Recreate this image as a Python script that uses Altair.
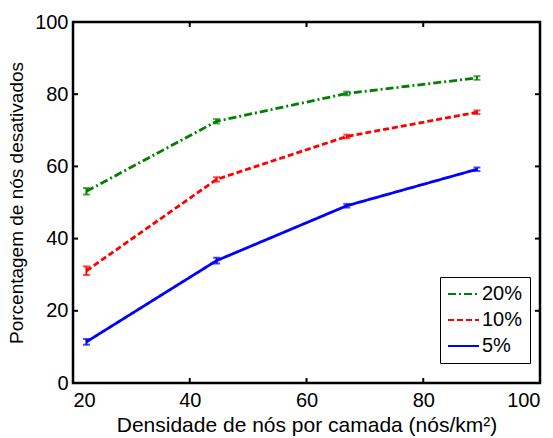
import altair as alt
import pandas as pd

density = [22.3, 44.6, 66.9, 89.2]
series = ["20%", "10%", "5%"]
vals_20 = [53.1, 72.5, 80.2, 84.5]
vals_10 = [31.1, 56.4, 68.3, 75.0]
vals_5 = [11.4, 33.9, 49.1, 59.2]
err_20 = [0.9, 0.6, 0.5, 0.5]
err_10 = [1.2, 0.6, 0.5, 0.5]
err_5 = [0.8, 0.8, 0.5, 0.5]
xticks = [20, 40, 60, 80, 100]
yticks = [0, 20, 40, 60, 80, 100]

rows = []
for s, vals, errs in [("20%", vals_20, err_20), ("10%", vals_10, err_10), ("5%", vals_5, err_5)]:
    for x, v, e in zip(density, vals, errs):
        rows.append({"x": x, "y": v, "lo": v - e, "hi": v + e, "s": s})
df = pd.DataFrame(rows)

W, H = 467, 361
FONT = "Liberation Sans"
colors = ["#008000", "#ff0000", "#0000ff"]
dashes = [[8, 3, 2, 3], [6, 3], [1, 0]]

xs = alt.Scale(domain=[20, 100], nice=False)
ys = alt.Scale(domain=[0, 100], nice=False)

base = alt.Chart(df)

lines = base.mark_line(strokeWidth=2.8).encode(
    x=alt.X("x:Q", scale=xs,
            axis=alt.Axis(values=xticks, title="Densidade de nós por camada (nós/km²)",
                          grid=False, ticks=False, domain=False, labelPadding=7,
                          labelFontSize=20, titleFontSize=21, titlePadding=4,
                          labelFont=FONT, titleFont=FONT, titleFontWeight="normal",
                          labelColor="black", titleColor="black")),
    y=alt.Y("y:Q", scale=ys,
            axis=alt.Axis(values=yticks, title="Porcentagem de nós desativados",
                          grid=False, ticks=False, domain=False, labelPadding=5,
                          labelFontSize=20, titleFontSize=19, titlePadding=8,
                          labelFont=FONT, titleFont=FONT, titleFontWeight="normal",
                          labelColor="black", titleColor="black")),
    color=alt.Color("s:N", scale=alt.Scale(domain=series, range=colors),
                    legend=alt.Legend(title=None, orient="none", legendX=367, legendY=255,
                                      strokeColor="black", fillColor="white", padding=7,
                                      symbolType="stroke", symbolSize=961, symbolStrokeWidth=2,
                                      labelFontSize=20, labelFont=FONT, labelColor="black",
                                      clipHeight=20, rowPadding=6, labelOffset=2)),
    strokeDash=alt.StrokeDash("s:N", scale=alt.Scale(domain=series, range=dashes), legend=None),
    detail="s:N",
)

err = base.mark_rule(strokeWidth=2).encode(
    x="x:Q", y="lo:Q", y2="hi:Q",
    color=alt.Color("s:N", scale=alt.Scale(domain=series, range=colors), legend=None),
)
cap_lo = base.mark_tick(orient="horizontal", size=7, thickness=2).encode(
    x="x:Q", y="lo:Q",
    color=alt.Color("s:N", scale=alt.Scale(domain=series, range=colors), legend=None),
)
cap_hi = base.mark_tick(orient="horizontal", size=7, thickness=2).encode(
    x="x:Q", y="hi:Q",
    color=alt.Color("s:N", scale=alt.Scale(domain=series, range=colors), legend=None),
)

xt = pd.DataFrame({"v": xticks})
yt = pd.DataFrame({"v": yticks})
tx_bot = alt.Chart(xt).mark_rule(color="black", strokeWidth=2).encode(
    x=alt.X("v:Q", scale=xs), y=alt.value(H), y2=alt.value(H - 5))
tx_top = alt.Chart(xt).mark_rule(color="black", strokeWidth=2).encode(
    x=alt.X("v:Q", scale=xs), y=alt.value(0), y2=alt.value(5))
ty_left = alt.Chart(yt).mark_rule(color="black", strokeWidth=2).encode(
    y=alt.Y("v:Q", scale=ys), x=alt.value(0), x2=alt.value(5))
ty_right = alt.Chart(yt).mark_rule(color="black", strokeWidth=2).encode(
    y=alt.Y("v:Q", scale=ys), x=alt.value(W), x2=alt.value(W - 5))

chart = alt.layer(tx_bot, tx_top, ty_left, ty_right, lines, err, cap_lo, cap_hi).properties(
    width=W, height=H,
    autosize=alt.AutoSizeParams(type="none"),
    padding={"left": 73, "top": 22, "right": 13, "bottom": 55},
    background="white",
).configure_view(stroke="black", strokeWidth=2.5)

chart.save("out.html", embed_options={"renderer": "svg", "actions": False})
